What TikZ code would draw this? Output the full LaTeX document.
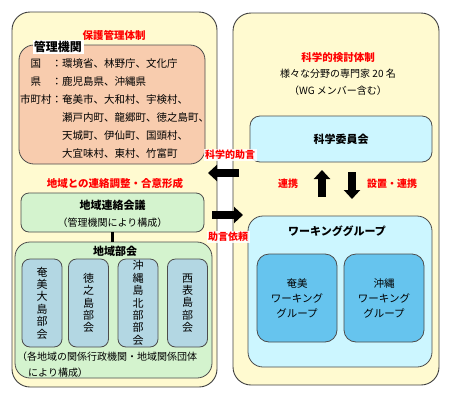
\documentclass[tikz,border=0pt]{standalone}
\usepackage{fontspec}
\setmainfont{Noto Sans CJK JP}
\usetikzlibrary{arrows.meta,positioning}
\definecolor{cream}{HTML}{FFFAD0}
\definecolor{salmon}{HTML}{F8CCAE}
\definecolor{mint}{HTML}{D4F3CE}
\definecolor{steel}{HTML}{B3D7E3}
\definecolor{ice}{HTML}{CCF6FF}
\definecolor{sky}{HTML}{66C4EE}
\tikzset{
    %Define style for the two frames
    panel/.style={
           rectangle,
           rounded corners=18pt,
           draw=black!75, line width=0.9pt,
           inner sep=0pt,
           fill=cream},
    %Define style for boxes
    orgbox/.style={
           rectangle,
           rounded corners=15pt,
           draw=black!70, line width=0.8pt,
           inner sep=0pt,
           fill=salmon},
    mintbox/.style={
           rectangle,
           rounded corners=8pt,
           draw=black!70, line width=0.8pt,
           inner sep=0pt,
           fill=mint},
    steelbox/.style={
           rectangle,
           rounded corners=8pt,
           draw=black!70, line width=0.8pt,
           inner sep=0pt,
           minimum width=40, minimum height=88,
           align=center,
           font=\fontsize{11}{12.4}\selectfont,
           fill=steel},
    icebox/.style={
           rectangle,
           rounded corners=10pt,
           draw=black!70, line width=0.8pt,
           inner sep=0pt,
           fill=ice},
    skybox/.style={
           rectangle,
           rounded corners=12pt,
           draw=black!70, line width=0.8pt,
           inner sep=0pt,
           minimum width=80, minimum height=88,
           align=center,
           font=\fontsize{10.5}{15}\selectfont,
           fill=sky},
    tagbox/.style={
           rectangle,
           inner sep=1.5pt,
           font=\bfseries\fontsize{12}{14}\selectfont,
           fill=white},
    boxtitle/.style={
           inner sep=0pt,
           font=\bfseries\fontsize{11}{13}\selectfont},
    redtitle/.style={
           inner sep=0pt,
           text=red,
           font=\bfseries\fontsize{10.5}{12}\selectfont},
    redlabel/.style={
           inner sep=1.5pt,
           text=red,
           font=\bfseries\fontsize{10}{12}\selectfont},
    % Define arrow style
    blockarrow/.style={
           line width=8.5pt,
           -{Triangle[width=16pt,length=9pt]}}
}

\begin{document}
\begin{tikzpicture}[x=1pt,y=-1pt,every node/.style={font=\fontsize{10}{12}\selectfont}]
\useasboundingbox (0,0) rectangle (450,400);
\node[panel, minimum width=205, minimum height=375](hogo) at (114.5,199.5){};
\node[panel, minimum width=206, minimum height=372](kagaku) at (336,199){};
% management side
\node[redtitle](hogotitle) at (114,35){保護管理体制};
\node[orgbox, minimum width=186, minimum height=119](kanri) at (112,104.5){};
\node[tagbox](kanritag) at (58,47){管理機関};
\node[anchor=north west, inner sep=0pt, font=\fontsize{10.5}{18}\selectfont](kanrilist) at (20,54.4){%
\begin{tabular}{@{}c@{}l@{}}
国 & ：環境省、林野庁、文化庁\\
県 & ：鹿児島県、沖縄県\\
市町村 & ：奄美市、大和村、宇検村、\\
 & \hspace{1em}瀬戸内町、龍郷町、徳之島町、\\
 & \hspace{1em}天城町、伊仙町、国頭村、\\
 & \hspace{1em}大宜味村、東村、竹富町
\end{tabular}};
\node[redtitle](chiikititle) at (115,183){地域との連絡調整・合意形成};
\node[mintbox, minimum width=183, minimum height=39](renraku) at (112.5,212.5){};
\node[boxtitle](renrakutitle) at (112.5,205){地域連絡会議};
\node(renrakunote) at (112.5,223){（管理機関により構成）};
\node[mintbox, rounded corners=15pt, minimum width=197, minimum height=136](bukai) at (113.5,310){};
\draw[line width=3pt] (renraku.south) -- (renraku.south |- bukai.north);
\node[boxtitle](bukaititle) at (115,251){地域部会};
\node[steelbox](amami) at (42,303){奄\\美\\大\\島\\部\\会};
\node[steelbox](tokunoshima) at (88.5,303){徳\\之\\島\\部\\会};
\node[steelbox](yanbaru) at (138,303){沖\\縄\\島\\北\\部\\部\\会};
\node[steelbox](iriomote) at (187.5,303){西\\表\\島\\部\\会};
\node[anchor=west, inner sep=0pt](bukainote) at (17,357){（各地域の関係行政機関・地域関係団体};
\node[anchor=west, inner sep=0pt](bukainote2) at (28,373){により構成）};
% science side
\node[redtitle](kagakutitle) at (338,58){科学的検討体制};
\node(senmonka) at (338,74){様々な分野の専門家 20 名};
\node(wgnote) at (338,91){（WG メンバー含む）};
\node[icebox, minimum width=182, minimum height=46, font=\bfseries\fontsize{11}{13}\selectfont](iinkai) at (341,139){科学委員会};
\node[icebox, rounded corners=15pt, minimum width=184, minimum height=151](wg) at (340,291.5){};
\node[boxtitle](wgtitle) at (337,231){ワーキンググループ};
\node[skybox](wgamami) at (297,298){奄美\\ワーキング\\グループ};
\node[skybox](wgokinawa) at (384,298){沖縄\\ワーキング\\グループ};
% arrows
\coordinate (upfrom) at (322,197);
\coordinate (upto) at (322,170);
\coordinate (downfrom) at (352,172);
\coordinate (downto) at (352,199);
\coordinate (advfrom) at (239,173);
\coordinate (advto) at (208,173);
\coordinate (reqfrom) at (212,215);
\coordinate (reqto) at (243,215);
\draw[blockarrow] (upfrom) -- (upto);
\draw[blockarrow] (downfrom) -- (downto);
\draw[blockarrow] (advfrom) -- (advto);
\draw[blockarrow] (reqfrom) -- (reqto);
\node[redlabel](renkei) at (288,184){連携};
\node[redlabel](setchi) at (392,184){設置・連携};
\node[redlabel, fill=white, fill opacity=0.85, text opacity=1](jogen) at (230,155){科学的助言};
\node[redlabel, fill=white, fill opacity=0.85, text opacity=1](irai) at (228,237){助言依頼};
\end{tikzpicture}
\end{document}
